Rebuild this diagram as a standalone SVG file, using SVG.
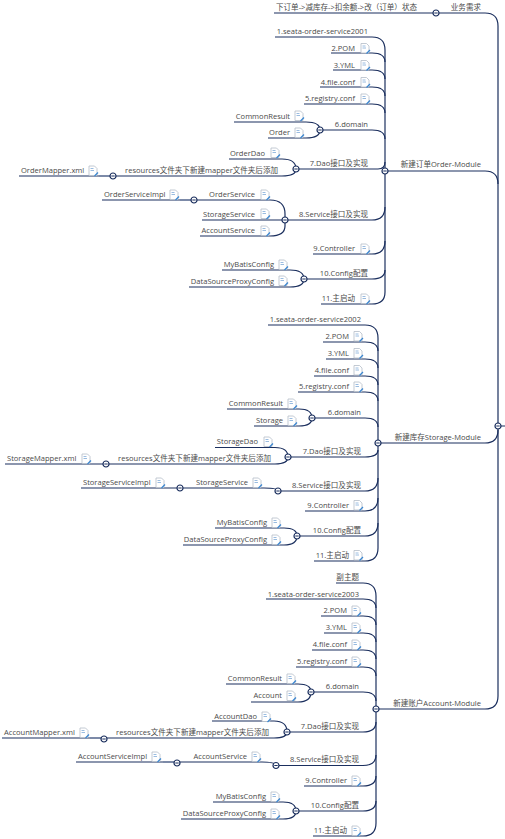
<svg xmlns="http://www.w3.org/2000/svg" xmlns:xlink="http://www.w3.org/1999/xlink" width="505" height="839" viewBox="0 0 505 839">
<style>
text{font-family:"Open Sans","Noto Sans CJK SC",sans-serif;font-size:7.55px;fill:#4a4a4a}
.e{text-anchor:end}
#connectors path{fill:none;stroke:#1b2f5e;stroke-width:1.2}
#connectors path.s{stroke:#7787a6;stroke-width:1.6}
</style>
<defs>
<g id="ic"><path d="M-4-5H1.500L4-2.500V4.500H-4Z" fill="#fff" stroke="#b4bcc8" stroke-width=".8"/><path d="M-2.500-2.500H.5M-2.500-.5H1" stroke="#8fb4dc" stroke-width=".9"/><path d="M1.500 5L5 1.500" stroke="#3a86d0" stroke-width="1.200"/></g>
<g id="k"><circle r="3" fill="#fff" stroke="#1b2f5e" stroke-width="1.200"/><path d="M-1.700 0H1.700" stroke="#1b2f5e" stroke-width="1"/></g>
</defs>
<g id="connectors">
<path d="M498 26V696M498 426H505"/>
<path d="M274 13H436M436 13H485Q498 13 498 26"/>
<path d="M385 171H485Q498 171 498 184"/>
<path d="M378 443H485Q498 443 498 430"/>
<path d="M376 709H485Q498 709 498 696"/>

<path d="M385 50V292"/>
<path d="M275 37H372Q385 37 385 50M331 53H372Q385 53 385 62M333 70H372Q385 70 385 79M320 87H372Q385 87 385 96M304 104H372Q385 104 385 113M320 130H372Q385 130 385 139M296 169H378Q385 169 385 162M285 220H372Q385 220 385 207M313 254H372Q385 254 385 241M304 279H372Q385 279 385 270M321 304H372Q385 304 385 292"/>
<path d="M234 122H306Q320 122 320 130Q320 138 306 138H268M229 159H282Q296 159 296 169Q296 176 282 176H113M19 176H113M102 200H194M194 200H270Q285 200 285 214V226Q285 236 270 236H200M202 220H285M222 270H290Q304 270 304 279Q304 287 290 287H189"/>
<path class="s" d="M99 176H110M180 200H191"/>

<path d="M378 338V548"/>
<path d="M268 325H365Q378 325 378 338M323 342H365Q378 342 378 351M326 359H365Q378 359 378 368M314 376H365Q378 376 378 385M298 392H365Q378 392 378 401M312 418H365Q378 418 378 427M288 457H365Q378 457 378 450M278 491H365Q378 491 378 478M305 511H365Q378 511 378 498M297 536H365Q378 536 378 523M314 561H365Q378 561 378 548"/>
<path d="M227 409H299Q312 409 312 418Q312 426 299 426H254M215 447.500H275Q288 447.500 288 457Q288 464 275 464H5M81 488H264Q278 488 278 491M215 528H284Q297 528 297 536Q297 545 284 545H183"/>

<path d="M376 596V823"/>
<path d="M336 583H363Q376 583 376 596M266 599H363Q376 599 376 608M321 616H363Q376 616 376 625M324 633H363Q376 633 376 642M312 650H363Q376 650 376 659M296 667H363Q376 667 376 676M311 692H363Q376 692 376 701M287 732H363Q376 732 376 722M276 765.500H363Q376 765.500 376 755M304 786H363Q376 786 376 776M296 811H363Q376 811 376 801M313 836H363Q376 836 376 823"/>
<path d="M226 684H298Q311 684 311 692Q311 702 298 702H251M212 721H274Q287 721 287 732Q287 738 274 738H2M76 762H262Q276 762 276 765.500M213 802H283Q296 802 296 811Q296 819 283 819H181"/>
<path class="s" d="M90 738H101M163 762H174"/>

<use href="#k" x="436" y="13"/><use href="#k" x="498" y="426"/>
<use href="#k" x="385" y="171"/><use href="#k" x="320" y="130"/><use href="#k" x="296" y="169"/><use href="#k" x="113" y="176"/><use href="#k" x="285" y="220"/><use href="#k" x="194" y="200"/><use href="#k" x="304" y="279"/>
<use href="#k" x="378" y="443"/><use href="#k" x="312" y="418"/><use href="#k" x="288" y="457"/><use href="#k" x="106" y="464"/><use href="#k" x="278" y="491"/><use href="#k" x="180" y="488"/><use href="#k" x="297" y="536"/>
<use href="#k" x="376" y="709"/><use href="#k" x="311" y="692"/><use href="#k" x="287" y="732"/><use href="#k" x="104" y="739"/><use href="#k" x="276" y="765.500"/><use href="#k" x="177" y="763"/><use href="#k" x="296" y="811"/>
</g>

<g id="n-task"><text x="276" y="9.500">下订单-&gt;减库存-&gt;扣余额-&gt;改（订单）状态</text></g>
<g id="n-req"><text class="e" x="481" y="9.500">业务需求</text></g>
<g id="n-order"><text class="e" x="481" y="167">新建订单Order-Module</text></g>
<g id="n-storage"><text class="e" x="481" y="440">新建库存Storage-Module</text></g>
<g id="n-account"><text class="e" x="481" y="706">新建账户Account-Module</text></g>

<g id="o1"><text class="e" x="368" y="33.500">1.seata-order-service2001</text></g>
<g id="o2"><text class="e" x="355" y="50.500">2.POM</text><use href="#ic" x="365" y="48.500"/></g>
<g id="o3"><text class="e" x="355" y="67.500">3.YML</text><use href="#ic" x="365" y="65.500"/></g>
<g id="o4"><text class="e" x="355" y="84.500">4.file.conf</text><use href="#ic" x="365" y="82.500"/></g>
<g id="o5"><text class="e" x="355" y="101">5.registry.conf</text><use href="#ic" x="365" y="99"/></g>
<g id="o6"><text class="e" x="368" y="127">6.domain</text></g>
<g id="o7"><text class="e" x="368" y="166">7.Dao接口及实现</text></g>
<g id="o8"><text class="e" x="368" y="217">8.Service接口及实现</text></g>
<g id="o9"><text class="e" x="355" y="251">9.Controller</text><use href="#ic" x="365" y="249"/></g>
<g id="o10"><text class="e" x="368" y="276">10.Config配置</text></g>
<g id="o11"><text class="e" x="355" y="301">11.主启动</text><use href="#ic" x="365" y="299"/></g>
<g id="o6a"><text class="e" x="290" y="119">CommonResult</text><use href="#ic" x="299" y="116"/></g>
<g id="o6b"><text class="e" x="290" y="135">Order</text><use href="#ic" x="299" y="133"/></g>
<g id="o7a"><text class="e" x="265" y="156">OrderDao</text><use href="#ic" x="275" y="153"/></g>
<g id="o7b"><text class="e" x="278" y="173">resources文件夹下新建mapper文件夹后添加</text></g>
<g id="o7c"><text x="21" y="173">OrderMapper.xml</text><use href="#ic" x="93" y="171"/></g>
<g id="o8a"><text class="e" x="255" y="197">OrderService</text><use href="#ic" x="265" y="195"/></g>
<g id="o8b"><text x="104" y="197">OrderServiceImpl</text><use href="#ic" x="174" y="195"/></g>
<g id="o8c"><text class="e" x="255" y="217">StorageService</text><use href="#ic" x="265" y="214"/></g>
<g id="o8d"><text class="e" x="255" y="233">AccountService</text><use href="#ic" x="265" y="231"/></g>
<g id="o10a"><text class="e" x="274" y="267">MyBatisConfig</text><use href="#ic" x="283" y="265"/></g>
<g id="o10b"><text class="e" x="274" y="284">DataSourceProxyConfig</text><use href="#ic" x="283" y="281"/></g>

<g id="s1"><text class="e" x="361" y="322">1.seata-order-service2002</text></g>
<g id="s2"><text class="e" x="349" y="339">2.POM</text><use href="#ic" x="358" y="336.500"/></g>
<g id="s3"><text class="e" x="349" y="356">3.YML</text><use href="#ic" x="358" y="353.500"/></g>
<g id="s4"><text class="e" x="349" y="373">4.file.conf</text><use href="#ic" x="358" y="370.500"/></g>
<g id="s5"><text class="e" x="349" y="389">5.registry.conf</text><use href="#ic" x="358" y="387"/></g>
<g id="s6"><text class="e" x="361" y="415">6.domain</text></g>
<g id="s7"><text class="e" x="361" y="454">7.Dao接口及实现</text></g>
<g id="s8"><text class="e" x="361" y="488">8.Service接口及实现</text></g>
<g id="s9"><text class="e" x="349" y="508">9.Controller</text><use href="#ic" x="358" y="505.500"/></g>
<g id="s10"><text class="e" x="361" y="533">10.Config配置</text></g>
<g id="s11"><text class="e" x="349" y="558">11.主启动</text><use href="#ic" x="358" y="555.500"/></g>
<g id="s6a"><text class="e" x="283" y="406">CommonResult</text><use href="#ic" x="292" y="404"/></g>
<g id="s6b"><text class="e" x="283" y="423">Storage</text><use href="#ic" x="292" y="421"/></g>
<g id="s7a"><text class="e" x="258" y="444">StorageDao</text><use href="#ic" x="268" y="442"/></g>
<g id="s7b"><text class="e" x="271" y="461">resources文件夹下新建mapper文件夹后添加</text></g>
<g id="s7c"><text x="7" y="461">StorageMapper.xml</text><use href="#ic" x="86" y="459"/></g>
<g id="s8a"><text class="e" x="248" y="485">StorageService</text><use href="#ic" x="257" y="483"/></g>
<g id="s8b"><text x="83" y="485">StorageServiceImpl</text><use href="#ic" x="160" y="483"/></g>
<g id="s10a"><text class="e" x="267" y="525">MyBatisConfig</text><use href="#ic" x="276" y="523"/></g>
<g id="s10b"><text class="e" x="267" y="542">DataSourceProxyConfig</text><use href="#ic" x="276" y="540"/></g>

<g id="a0"><text class="e" x="359" y="580">副主题</text></g>
<g id="a1"><text class="e" x="359" y="597">1.seata-order-service2003</text></g>
<g id="a2"><text class="e" x="347" y="613">2.POM</text><use href="#ic" x="356" y="611"/></g>
<g id="a3"><text class="e" x="347" y="630">3.YML</text><use href="#ic" x="356" y="628"/></g>
<g id="a4"><text class="e" x="347" y="647">4.file.conf</text><use href="#ic" x="356" y="645"/></g>
<g id="a5"><text class="e" x="347" y="664">5.registry.conf</text><use href="#ic" x="356" y="662"/></g>
<g id="a6"><text class="e" x="359" y="689">6.domain</text></g>
<g id="a7"><text class="e" x="359" y="729">7.Dao接口及实现</text></g>
<g id="a8"><text class="e" x="359" y="762">8.Service接口及实现</text></g>
<g id="a9"><text class="e" x="347" y="783">9.Controller</text><use href="#ic" x="356" y="781"/></g>
<g id="a10"><text class="e" x="359" y="808">10.Config配置</text></g>
<g id="a11"><text class="e" x="347" y="833">11.主启动</text><use href="#ic" x="356" y="831"/></g>
<g id="a6a"><text class="e" x="282" y="681">CommonResult</text><use href="#ic" x="291" y="679"/></g>
<g id="a6b"><text class="e" x="282" y="698">Account</text><use href="#ic" x="291" y="696"/></g>
<g id="a7a"><text class="e" x="257" y="719">AccountDao</text><use href="#ic" x="266" y="717"/></g>
<g id="a7b"><text class="e" x="269" y="735">resources文件夹下新建mapper文件夹后添加</text></g>
<g id="a7c"><text x="4" y="735">AccountMapper.xml</text><use href="#ic" x="84" y="733"/></g>
<g id="a8a"><text class="e" x="247" y="759">AccountService</text><use href="#ic" x="256" y="757"/></g>
<g id="a8b"><text x="78" y="759">AccountServiceImpl</text><use href="#ic" x="156" y="757"/></g>
<g id="a10a"><text class="e" x="266" y="799">MyBatisConfig</text><use href="#ic" x="275" y="797"/></g>
<g id="a10b"><text class="e" x="266" y="816">DataSourceProxyConfig</text><use href="#ic" x="275" y="814"/></g>
</svg>
